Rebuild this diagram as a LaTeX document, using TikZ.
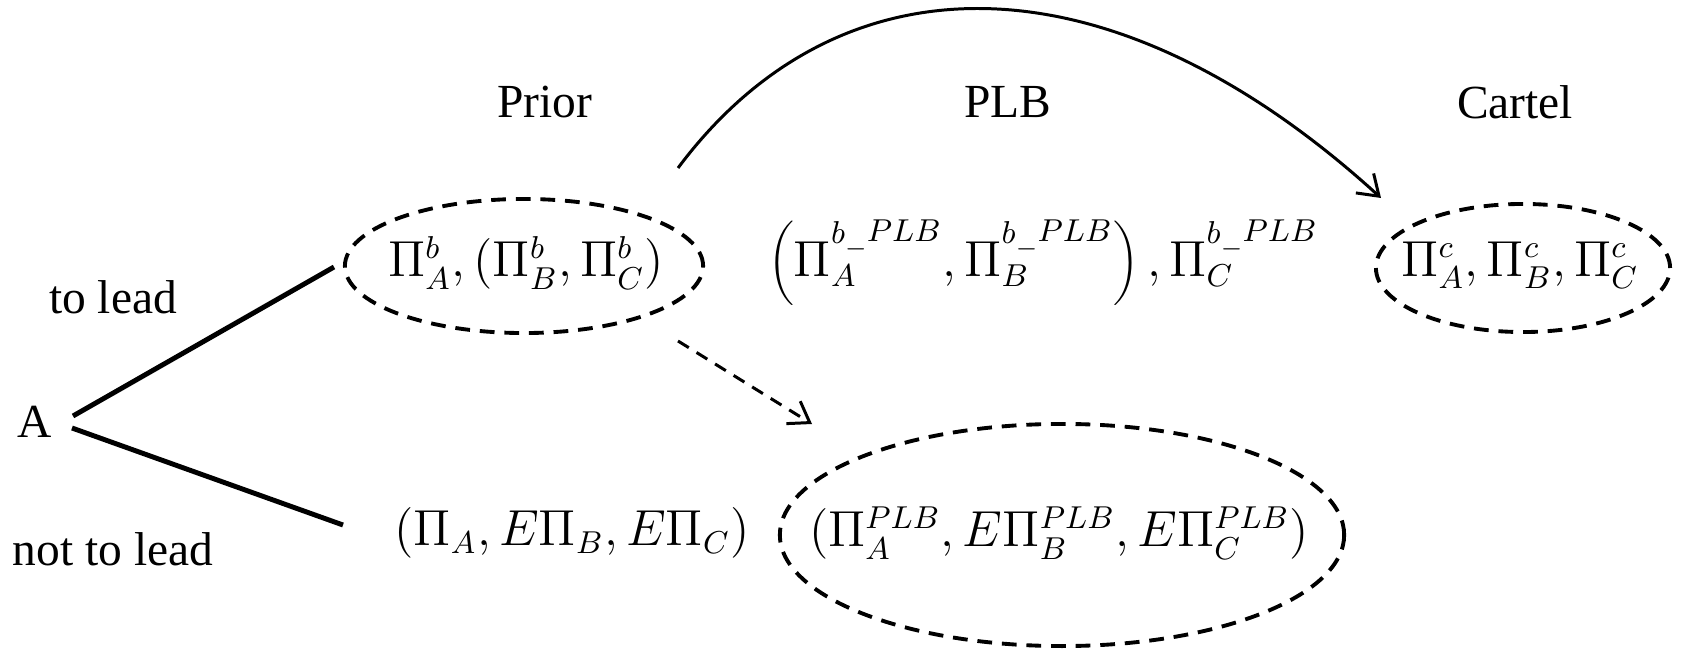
\documentclass[tikz,border=0pt]{standalone}
\usepackage{fontspec}
\setmainfont{Liberation Serif}
\usetikzlibrary{shapes.geometric,arrows.meta}

% superscript b-PLB as printed
\newcommand{\bplb}{b\raisebox{-0.55ex}{$\scriptscriptstyle-$}\raisebox{0.1ex}{$\scriptstyle PLB$}}

\begin{document}
\begin{tikzpicture}[x=0.01cm,y=-0.01cm,
    every node/.style={font=\fontsize{13.5}{16}\selectfont},
    oval/.style={ellipse, draw, line width=1.1pt, dash pattern=on 4.2pt off 2.8pt, inner sep=0pt},
    branch/.style={line width=1.4pt},
    tip/.style={-{Straight Barb[length=5.5pt,width=7.5pt]}}]
    \useasboundingbox (0,0) rectangle (1682,649);

    % Column heads
    \node (prior) at (545,102) {Prior};
    \node (plb) at (1008,102) {PLB};
    \node (cartel) at (1515,102) {Cartel};

    % Payoffs when A leads
    \node[oval, minimum width=3.58cm, minimum height=1.34cm] (priorset) at (524,266) {};
    \node (priortext) at (526,263) {$\Pi^b_A, \bigl(\Pi^b_B, \Pi^b_C\bigr)$};
    \node (plbset) at (1043,263)
        {$\left(\Pi_A^{\bplb}, \Pi_B^{\bplb}\right), \Pi_C^{\bplb}$};
    \node[oval, minimum width=2.94cm, minimum height=1.28cm] (cartelset) at (1523,268) {};
    \node (carteltext) at (1520,265) {$\Pi^c_A, \Pi^c_B, \Pi^c_C$};

    % Payoffs when A does not lead
    \node (noleadset) at (572,533) {$\left(\Pi_A, E\Pi_B, E\Pi_C\right)$};
    \node[oval, minimum width=5.64cm, minimum height=2.22cm] (plbbottom) at (1062,535) {};
    \node (plbbottomtext) at (1059,533) {$\bigl(\Pi_A^{PLB}, E\Pi_B^{PLB}, E\Pi_C^{PLB}\bigr)$};

    % Decision of A
    \node (A) at (35,422) {A};
    \node (lead) at (113,297) {to lead};
    \node (nolead) at (113,549) {not to lead};
    \coordinate (upstart) at (73,416);
    \coordinate (upend) at (334,267);
    \coordinate (downstart) at (72,428);
    \coordinate (downend) at (343,525);
    \draw[branch] (upstart) -- (upend);
    \draw[branch] (downstart) -- (downend);

    % Arrows
    \coordinate (curvestart) at (678,168);
    \coordinate (curveend) at (1381,198);
    \draw[tip, line width=0.85pt] (curvestart) .. controls (840,-49) and (1110,-49) .. (curveend);
    \coordinate (dashstart) at (678,341);
    \coordinate (dashend) at (812,424);
    \draw[tip, line width=0.85pt, dash pattern=on 3.6pt off 2.6pt] (dashstart) -- (dashend);
\end{tikzpicture}
\end{document}
